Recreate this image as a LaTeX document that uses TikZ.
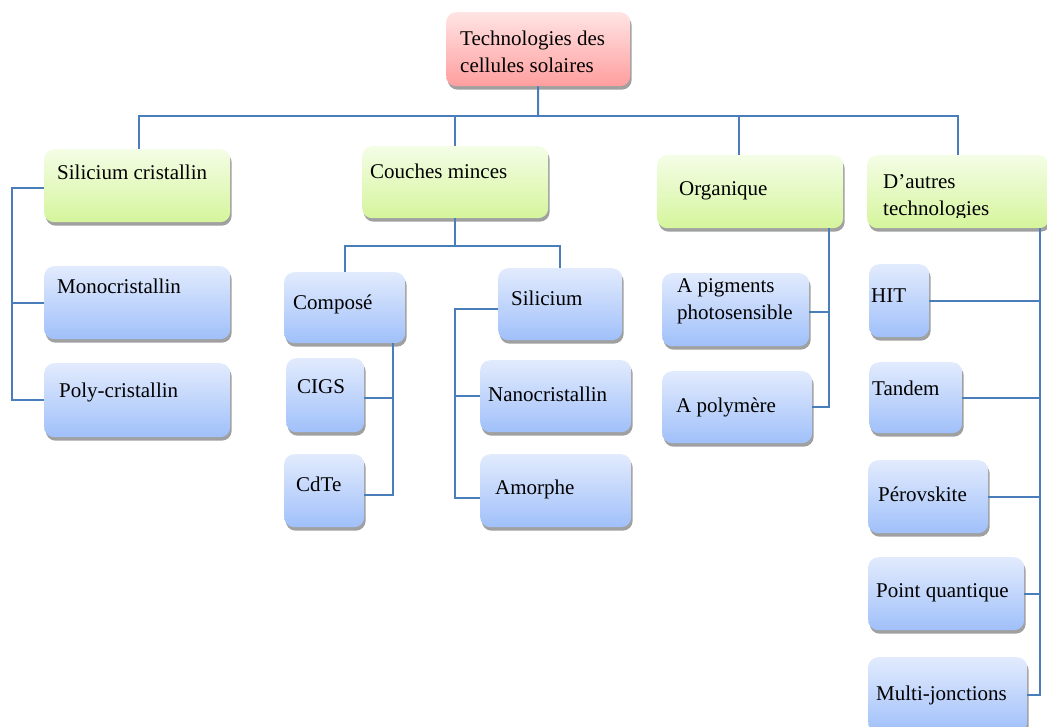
\documentclass[tikz,border=0pt]{standalone}
\usepackage{fontspec}
\setmainfont{Liberation Serif}
\usetikzlibrary{shadows,calc}
\definecolor{conncol}{RGB}{74,126,187}
\definecolor{bluetop}{RGB}{226,235,253}
\definecolor{bluebot}{RGB}{160,192,250}
\definecolor{greentop}{RGB}{244,253,230}
\definecolor{greenbot}{RGB}{213,245,156}
\definecolor{pinktop}{RGB}{255,228,228}
\definecolor{pinkbot}{RGB}{255,158,158}
\definecolor{shadowgray}{RGB}{160,160,160}
\tikzset{
  boxbase/.style={rectangle, rounded corners=10pt, anchor=north west, inner sep=0pt, draw=none,
    drop shadow={shadow xshift=1.5pt, shadow yshift=-3.5pt, fill=shadowgray, opacity=1}},
  bluebox/.style={boxbase, top color=bluetop, bottom color=bluebot},
  greenbox/.style={boxbase, top color=greentop, bottom color=greenbot},
  pinkbox/.style={boxbase, top color=pinktop, bottom color=pinkbot},
  txt/.style={anchor=base west, inner sep=0pt, font=\fontsize{21}{27}\selectfont},
  conn/.style={draw=conncol, line width=2pt}
}
\begin{document}
\begin{tikzpicture}[x=1pt,y=-1pt]
\useasboundingbox (0,0) rectangle (1047,726);
\clip (0,0) rectangle (1047,726);
% boxes
\node[pinkbox, minimum width=184pt, minimum height=74pt] (root) at (446,12) {};
\node[greenbox, minimum width=186pt, minimum height=73pt] (sc) at (44,149) {};
\node[greenbox, minimum width=186pt, minimum height=72pt] (cm) at (362,146) {};
\node[greenbox, minimum width=186pt, minimum height=73pt] (org) at (657,155) {};
\node[greenbox, minimum width=182pt, minimum height=73pt] (aut) at (867,155) {};
\node[bluebox, minimum width=186pt, minimum height=73pt] (mono) at (44,266) {};
\node[bluebox, minimum width=186pt, minimum height=74pt] (poly) at (44,363) {};
\node[bluebox, minimum width=121pt, minimum height=71pt] (compose) at (284,272) {};
\node[bluebox, minimum width=78pt, minimum height=74pt] (cigs) at (286,358) {};
\node[bluebox, minimum width=80pt, minimum height=73pt] (cdte) at (284,454) {};
\node[bluebox, minimum width=124pt, minimum height=72pt] (sil) at (498,268) {};
\node[bluebox, minimum width=151pt, minimum height=72pt] (nano) at (480,360) {};
\node[bluebox, minimum width=151pt, minimum height=73pt] (amor) at (480,454) {};
\node[bluebox, minimum width=147pt, minimum height=73pt] (pig) at (662,273) {};
\node[bluebox, minimum width=150pt, minimum height=72pt] (polym) at (662,371) {};
\node[bluebox, minimum width=60pt, minimum height=73pt] (hit) at (869,264) {};
\node[bluebox, minimum width=93pt, minimum height=71pt] (tandem) at (869,362) {};
\node[bluebox, minimum width=120pt, minimum height=73pt] (perov) at (868,460) {};
\node[bluebox, minimum width=156pt, minimum height=73pt] (pq) at (868,557) {};
\node[bluebox, minimum width=159pt, minimum height=75pt] (multi) at (868,657) {};
% texts
\node[txt] (t-root1) at (460,45) {Technologies des};
\node[txt] (t-root2) at (460,72.5) {cellules solaires};
\node[txt] (t-sc) at (57,179) {Silicium cristallin};
\node[txt] (t-cm) at (370,178) {Couches minces};
\node[txt] (t-org) at (679,195) {Organique};
\node[txt] (t-aut1) at (883,188) {D’autres};
\begin{scope}
  \clip (860,150) rectangle (1047,217.5);
  \node[txt] (t-aut2) at (883,215) {technologies};
\end{scope}
\node[txt] (t-mono) at (57,293) {Monocristallin};
\node[txt] (t-poly) at (59,397) {Poly-cristallin};
\node[txt] (t-compose) at (293,309) {Composé};
\node[txt] (t-cigs) at (297,393) {CIGS};
\node[txt] (t-cdte) at (296,491) {CdTe};
\node[txt] (t-sil) at (511,305) {Silicium};
\node[txt] (t-nano) at (488,401) {Nanocristallin};
\node[txt] (t-amor) at (495,494) {Amorphe};
\node[txt] (t-pig1) at (677,292) {A pigments};
\node[txt] (t-pig2) at (677,319) {photosensible};
\node[txt] (t-polym) at (676,412) {A polymère};
\node[txt] (t-hit) at (871,302) {HIT};
\node[txt] (t-tandem) at (872,395) {Tandem};
\node[txt] (t-perov) at (878,501) {Pérovskite};
\node[txt] (t-pq) at (876,597) {Point quantique};
\node[txt] (t-multi) at (876,700) {Multi-jonctions};
% connectors: top level
\coordinate (bus) at (538,116);
\draw[conn] (root.south) -- (bus);
\coordinate (sctop) at ([xshift=2pt]sc.north);
\draw[conn] (sctop) |- (bus) -| (aut.north);
\draw[conn] (cm.north) -- (cm.north |- bus);
\coordinate (orgtop) at ([xshift=-11pt]org.north);
\draw[conn] (orgtop) -- (orgtop |- bus);
% silicium cristallin
\coordinate (scw) at ([yshift=-2.5pt]sc.west);
\coordinate (scx) at ([xshift=-32pt]scw);
\draw[conn] (scw) -- (scx) |- (poly.west);
\draw[conn] (mono.west) -- (mono.west -| scx);
% couches minces
\coordinate (cmb) at ([yshift=-28pt]cm.south);
\draw[conn] (cm.south) -- (cmb);
\draw[conn] (compose.north) |- (cmb) -| (sil.north);
\coordinate (cx) at ([xshift=-12pt]compose.south east);
\coordinate (cdtee) at ([yshift=-4.5pt]cdte.east);
\draw[conn] (cx) |- (cdtee);
\coordinate (cigse) at ([yshift=-3pt]cigs.east);
\draw[conn] (cigse) -- (cigse -| cx);
\coordinate (silw) at ([yshift=-5pt]sil.west);
\coordinate (sx) at ([xshift=-43pt]silw);
\coordinate (amorw) at ([yshift=-7pt]amor.west);
\draw[conn] (silw) -- (sx) |- (amorw);
\draw[conn] (nano.west) -- (nano.west -| sx);
% organique
\coordinate (ox) at ([xshift=-14pt]org.south east);
\draw[conn] (ox) |- (polym.east);
\coordinate (pige) at ([yshift=-2.5pt]pig.east);
\draw[conn] (pige) -- (pige -| ox);
% autres
\coordinate (ax) at ([xshift=-9pt]aut.south east);
\draw[conn] (ax) |- (multi.east);
\draw[conn] (hit.east) -- (hit.east -| ax);
\draw[conn] (tandem.east) -- (tandem.east -| ax);
\draw[conn] (perov.east) -- (perov.east -| ax);
\draw[conn] (pq.east) -- (pq.east -| ax);
\end{tikzpicture}
\end{document}
